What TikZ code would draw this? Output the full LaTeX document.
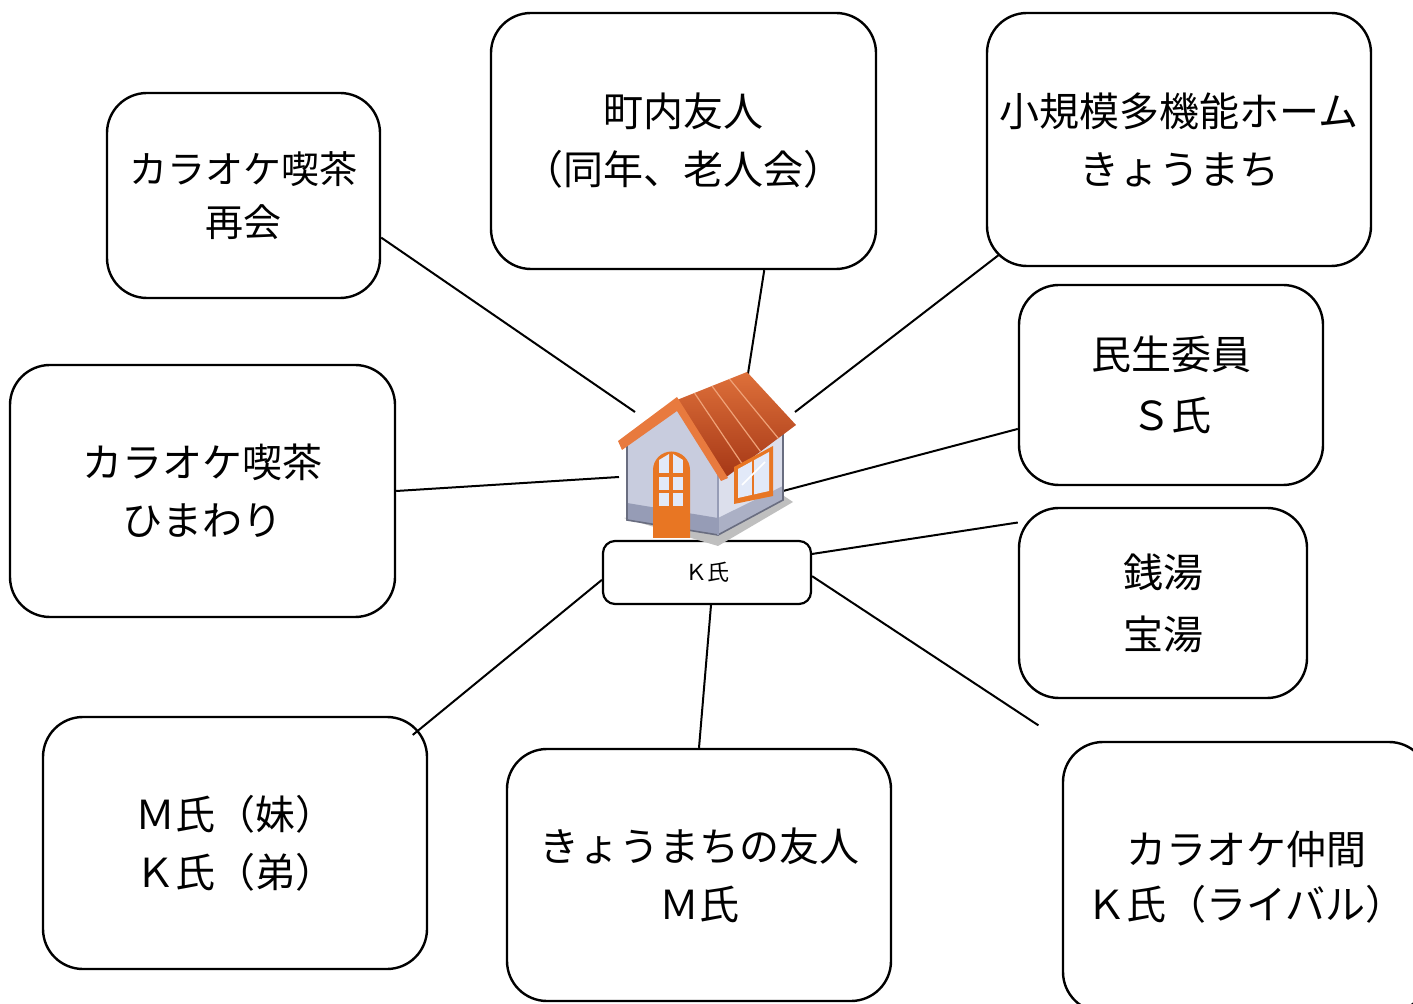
\documentclass[tikz,border=0pt]{standalone}
\usepackage{fontspec}
\newfontfamily\jpfont{Noto Sans CJK JP}
\usetikzlibrary{calc}
\definecolor{wallfront}{RGB}{200,204,222}
\definecolor{wallside}{RGB}{220,223,236}
\definecolor{wallbase}{RGB}{150,156,182}
\definecolor{rooflight}{RGB}{222,112,58}
\definecolor{roofdark}{RGB}{165,55,22}
\definecolor{fascia}{RGB}{232,122,62}
\definecolor{door}{RGB}{232,118,35}
\definecolor{pane}{RGB}{226,233,248}

\begin{document}
\begin{tikzpicture}[x=0.5pt, y=-0.5pt,
    contact box/.style={draw, line width=1.2pt, rounded corners=20pt, align=center, inner sep=0pt, font=\jpfont\fontsize{20pt}{29pt}\selectfont},
    name box/.style={draw, line width=1.1pt, rounded corners=6pt, inner sep=0pt, minimum width=104pt, minimum height=31.5pt, font=\jpfont\fontsize{11pt}{13pt}\selectfont},
    link/.style={line width=1pt}
  ]
  \useasboundingbox (0,0) rectangle (1413,1004);
  \clip (0,0) rectangle (1413,1004);

  \begin{scope}[every node/.style={contact box}]
  \node [minimum width=136.5pt, minimum height=102.5pt, font=\jpfont\fontsize{19pt}{26.5pt}\selectfont] (saikai) at (243.5,195.5) {カラオケ喫茶\\再会};
  \node [minimum width=192.5pt, minimum height=128pt] (chonai) at (683.5,141) {町内友人\\（同年、老人会）};
  \node [minimum width=192pt, minimum height=126.5pt] (kibo) at (1179,139.5) {小規模多機能ホーム\\きょうまち};
  \node [minimum width=192.5pt, minimum height=126pt] (himawari) at (202.5,491) {カラオケ喫茶\\ひまわり};
  \node [minimum width=152pt, minimum height=100pt, font=\jpfont\fontsize{20pt}{30.5pt}\selectfont] (minsei) at (1171,385) {民生委員\\Ｓ氏};
  \node [minimum width=144pt, minimum height=95pt, font=\jpfont\fontsize{20pt}{31pt}\selectfont] (sento) at (1163,603) {銭湯\\宝湯};
  \node [minimum width=192pt, minimum height=126pt] (kazoku) at (235,843) {Ｍ氏（妹）\\Ｋ氏（弟）};
  \node [minimum width=192pt, minimum height=126pt] (yujin) at (699,875) {きょうまちの友人\\Ｍ氏};
  \node [minimum width=183pt, minimum height=135pt, font=\jpfont\fontsize{20pt}{27.5pt}\selectfont] (nakama) at (1246,877) {カラオケ仲間\\Ｋ氏（ライバル）};
  \end{scope}
  \node [name box] (kshi) at (707,572.5) {Ｋ氏};

  % points where the lines meet the house
  \coordinate (hA) at (635,412);
  \coordinate (hB) at (747,380);
  \coordinate (hC) at (795,412);
  \coordinate (hD) at (619,477);
  \coordinate (hE) at (783,491);

  \begin{scope}[every path/.style={link}]
  \draw (saikai.-17) -- (hA);
  \draw (chonai.-58) -- (hB);
  \draw [shorten <=-8pt] (kibo.-147) -- (hC);
  \draw (himawari.east) -- (hD);
  \draw (minsei.-164) -- (hE);
  \draw (sento.151) -- (kshi.10);
  \draw [shorten >=14pt] (kshi.-2) -- (nakama.north west);
  \draw (yujin.north) -- (kshi.-83);
  \draw [shorten <=-10pt] (kazoku.32) -- (kshi.-176);
  \end{scope}

  % house
  \fill [black!25] (624,518) -- (718,546) -- (793,502) -- (784,496) -- cycle;
  \fill [wallfront] (627,520) -- (627,442) -- (677,408) -- (718,470) -- (718,535) -- cycle;
  \fill [wallbase] (627,503) -- (718,518) -- (718,535) -- (627,520) -- cycle;
  \fill [wallside] (718,470) -- (783,432) -- (783,500) -- (718,535) -- cycle;
  \fill [wallbase!80!white] (718,518) -- (783,486) -- (783,500) -- (718,535) -- cycle;
  \draw [wallbase!70!black, line width=0.8pt] (627,442) -- (627,520) -- (718,535) -- (783,500) -- (783,432);
  \draw [wallbase, line width=0.6pt] (718,470) -- (718,535);
  \shade [shading angle=-35, top color=rooflight, bottom color=roofdark] (677,400) -- (747,372) -- (796,425) -- (725,478) -- cycle;
  \foreach \f in {0.25,0.5,0.75}
    \draw [fascia!70!white, line width=0.6pt] ($(677,400)!\f!(747,372)$) -- ($(725,478)!\f!(796,425)$);
  \fill [fascia] (618,441) -- (677,397) -- (728,478) -- (721,481) -- (677,411) -- (622,450) -- cycle;
  % door
  \fill [door] (653,538) -- (653,470) arc (180:360:18.5) -- (690,538) -- cycle;
  \foreach \x in {659,673}
    \foreach \y in {473,490,506}
      \fill [pane] (\x,\y) rectangle ++(10,-13);
  \fill [pane] (659,460) -- (669,460) -- (669,454) -- cycle;
  \fill [pane] (673,460) -- (683,460) -- (673,454) -- cycle;
  % side window
  \fill [door] (734,467) -- (773,446) -- (773,496) -- (734,504) -- cycle;
  \fill [pane] (738,469) -- (769,452) -- (769,491) -- (738,498) -- cycle;
  \draw [door, line width=1.2pt] (753,460) -- (753,495);
  \draw [white, line width=0.8pt] (742,485) -- (765,462);
\end{tikzpicture}
\end{document}
